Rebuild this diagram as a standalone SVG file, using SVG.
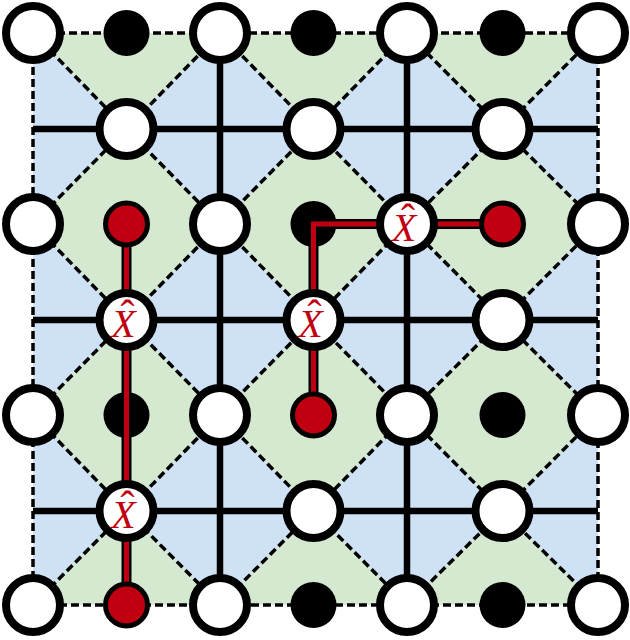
<svg xmlns="http://www.w3.org/2000/svg" width="630" height="640" viewBox="0 0 630 640">
<defs>
<style>
.dash{fill:none;stroke:#000;stroke-width:3.5;stroke-dasharray:8 4}
.solid{stroke:#000;stroke-width:6.5;fill:none}
.green{fill:#d5e8d0}
.data circle{fill:#fff;stroke:#000;stroke-width:8}
.anc circle{fill:#000}
.err circle{fill:#c00010;stroke:#000;stroke-width:5}
.rout{fill:none;stroke:#000;stroke-width:10;stroke-linejoin:miter}
.rin{fill:none;stroke:#c00010;stroke-width:5;stroke-linejoin:miter}
.lbl{font-family:'Liberation Serif','DejaVu Serif',serif;fill:#c00010;text-anchor:middle}
.xt{font-style:italic;font-size:40px}
.hat{font-size:42px}
</style>
<clipPath id="sq"><rect x="33" y="33" width="565" height="572"/></clipPath>
</defs>
<rect x="33" y="33" width="565" height="572" fill="#cfe2f5"/>
<g clip-path="url(#sq)">
<g class="green">
<polygon points="33,33 126.5,-62 220,33 126.5,129"/>
<polygon points="220,33 313.5,-62 407,33 313.5,129"/>
<polygon points="407,33 502.5,-62 598,33 502.5,129"/>
<polygon points="33,224 126.5,129 220,224 126.5,320"/>
<polygon points="220,224 313.5,129 407,224 313.5,320"/>
<polygon points="407,224 502.5,129 598,224 502.5,320"/>
<polygon points="33,415 126.5,320 220,415 126.5,511"/>
<polygon points="220,415 313.5,320 407,415 313.5,511"/>
<polygon points="407,415 502.5,320 598,415 502.5,511"/>
<polygon points="33,605 126.5,511 220,605 126.5,700"/>
<polygon points="220,605 313.5,511 407,605 313.5,700"/>
<polygon points="407,605 502.5,511 598,605 502.5,700"/>
</g>
</g>
<g id="connectors">
<g class="dash">
<polyline points="33,33 126.5,129 220,33 313.5,129 407,33 502.5,129 598,33"/>
<polyline points="33,224 126.5,129 220,224 313.5,129 407,224 502.5,129 598,224"/>
<polyline points="33,224 126.5,320 220,224 313.5,320 407,224 502.5,320 598,224"/>
<polyline points="33,415 126.5,320 220,415 313.5,320 407,415 502.5,320 598,415"/>
<polyline points="33,415 126.5,511 220,415 313.5,511 407,415 502.5,511 598,415"/>
<polyline points="33,605 126.5,511 220,605 313.5,511 407,605 502.5,511 598,605"/>
<rect x="33" y="33" width="565" height="572"/>
</g>
<g class="solid">
<line x1="33" y1="129" x2="598" y2="129"/>
<line x1="33" y1="320" x2="598" y2="320"/>
<line x1="33" y1="511" x2="598" y2="511"/>
<line x1="220" y1="33" x2="220" y2="605"/>
<line x1="407" y1="33" x2="407" y2="605"/>
</g>
</g>
<g id="ancillas" class="anc">
<circle cx="126.5" cy="33" r="23"/>
<circle cx="313.5" cy="33" r="23"/>
<circle cx="502.5" cy="33" r="23"/>
<circle cx="313.5" cy="224" r="23"/>
<circle cx="126.5" cy="415" r="23"/>
<circle cx="502.5" cy="415" r="23"/>
<circle cx="313.5" cy="605" r="23"/>
<circle cx="502.5" cy="605" r="23"/>
</g>
<g id="error-chains">
<path class="rout" d="M126.5,224 V605"/>
<path class="rin" d="M126.5,224 V605"/>
<path class="rout" d="M313.5,415 V224 H502.5"/>
<path class="rin" d="M313.5,415 V224 H502.5"/>
</g>
<g id="defects" class="err">
<circle cx="126.5" cy="224" r="21"/>
<circle cx="502.5" cy="224" r="21"/>
<circle cx="313.5" cy="415" r="21"/>
<circle cx="126.5" cy="605" r="21"/>
</g>
<g id="data" class="data">
<circle cx="33" cy="33" r="27"/>
<circle cx="220" cy="33" r="27"/>
<circle cx="407" cy="33" r="27"/>
<circle cx="598" cy="33" r="27"/>
<circle cx="126.5" cy="129" r="27"/>
<circle cx="313.5" cy="129" r="27"/>
<circle cx="502.5" cy="129" r="27"/>
<circle cx="33" cy="224" r="27"/>
<circle cx="220" cy="224" r="27"/>
<circle cx="598" cy="224" r="27"/>
<circle cx="502.5" cy="320" r="27"/>
<circle cx="33" cy="415" r="27"/>
<circle cx="220" cy="415" r="27"/>
<circle cx="407" cy="415" r="27"/>
<circle cx="598" cy="415" r="27"/>
<circle cx="313.5" cy="511" r="27"/>
<circle cx="502.5" cy="511" r="27"/>
<circle cx="33" cy="605" r="27"/>
<circle cx="220" cy="605" r="27"/>
<circle cx="407" cy="605" r="27"/>
<circle cx="598" cy="605" r="27"/>
</g>
<g id="flipped" class="data">
<g id="x1"><circle cx="407" cy="224" r="27"/><text class="lbl"><tspan class="xt" x="404" y="241">X</tspan><tspan class="hat" x="408" y="233">ˆ</tspan></text></g>
<g id="x2"><circle cx="126.5" cy="320" r="27"/><text class="lbl"><tspan class="xt" x="123.5" y="337">X</tspan><tspan class="hat" x="127.5" y="329">ˆ</tspan></text></g>
<g id="x3"><circle cx="313.5" cy="320" r="27"/><text class="lbl"><tspan class="xt" x="310.5" y="337">X</tspan><tspan class="hat" x="314.5" y="329">ˆ</tspan></text></g>
<g id="x4"><circle cx="126.5" cy="511" r="27"/><text class="lbl"><tspan class="xt" x="123.5" y="528">X</tspan><tspan class="hat" x="127.5" y="520">ˆ</tspan></text></g>
</g>
</svg>
